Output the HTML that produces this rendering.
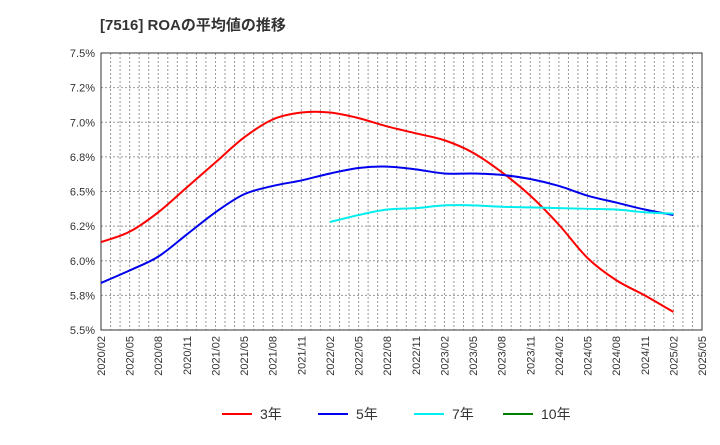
<!DOCTYPE html>
<html><head><meta charset="utf-8"><style>
body{margin:0;background:#fff;font-family:"Liberation Sans","Noto Sans CJK JP",sans-serif;}
</style></head><body>
<svg id="c" width="720" height="440" xmlns="http://www.w3.org/2000/svg">
<text x="100" y="30" font-size="15" font-weight="bold" fill="#333">[7516]  ROAの平均値の推移</text>
<g id="grid"></g><g id="axes"></g><g id="series"></g><g id="legend"></g>
</svg>
<script>
const xLabels=["2020/02","2020/05","2020/08","2020/11","2021/02","2021/05","2021/08","2021/11","2022/02","2022/05","2022/08","2022/11","2023/02","2023/05","2023/08","2023/11","2024/02","2024/05","2024/08","2024/11","2025/02","2025/05"];
const yTicks=[5.5,5.75,6.0,6.25,6.5,6.75,7.0,7.25,7.5];
const yTickLabels=["5.5%","5.8%","6.0%","6.2%","6.5%","6.8%","7.0%","7.2%","7.5%"];
const s3=[6.135,6.21,6.35,6.53,6.71,6.89,7.02,7.07,7.07,7.03,6.97,6.92,6.87,6.78,6.64,6.47,6.26,6.02,5.86,5.75,5.63];
const s5=[5.84,5.93,6.03,6.19,6.35,6.48,6.54,6.58,6.63,6.67,6.68,6.66,6.63,6.63,6.62,6.59,6.54,6.47,6.42,6.37,6.33];
const s7=[null,null,null,null,null,null,null,null,6.28,6.33,6.37,6.38,6.40,6.40,6.39,6.385,6.38,6.375,6.37,6.35,6.34];
const s10=[];
const L=101,R=702,T=53,B=330;
const NS="http://www.w3.org/2000/svg";
const xq=i=>L+i*(R-L)/21;
const ym=v=>B-(v-5.5)/2*(B-T);
function mk(t,a,p){const e=document.createElementNS(NS,t);for(const k in a)e.setAttribute(k,a[k]);p.appendChild(e);return e;}
const g=document.getElementById('grid'),ax=document.getElementById('axes'),sg=document.getElementById('series'),lg=document.getElementById('legend');
for(let m=1;m<63;m++){const x=L+m*(R-L)/63;const l=mk('line',{x1:x,x2:x,y1:T,y2:B,stroke:'#999','stroke-dasharray':'2,2','stroke-width':1},g);

}
yTicks.forEach((v,i)=>{const y=ym(v);const l=mk('line',{x1:L,x2:R,y1:y,y2:y,stroke:'#999','stroke-dasharray':'2,2'},g);


const t=mk('text',{x:L-6,y:y+4,'text-anchor':'end','font-size':11,fill:'#333'},ax);t.textContent=yTickLabels[i];

});
const fr=mk('rect',{x:L,y:T,width:R-L,height:B-T,fill:'none',stroke:'#333','stroke-width':1},ax);


xLabels.forEach((s,i)=>{const x=xq(i);const t=mk('text',{x:x+4,y:B+6,'text-anchor':'end','font-size':11,fill:'#333',transform:`rotate(-90 ${x+4} ${B+6})`},ax);t.textContent=s;

});
function path(arr,color,name){const p=[];arr.forEach((v,i)=>{if(v!=null)p.push([xq(i),ym(v)]);});if(p.length<2)return;
let d=`M${p[0][0]},${p[0][1]}`;for(let i=0;i<p.length-1;i++){const p0=p[i-1]||p[i],p1=p[i],p2=p[i+1],p3=p[i+2]||p2;
d+=` C${p1[0]+(p2[0]-p0[0])/6},${p1[1]+(p2[1]-p0[1])/6} ${p2[0]-(p3[0]-p1[0])/6},${p2[1]-(p3[1]-p1[1])/6} ${p2[0]},${p2[1]}`;}
const e=mk('path',{d:d,fill:'none',stroke:color,'stroke-width':2},sg);

}
path(s3,'#ff0000','line-3yr');path(s5,'#0000ee','line-5yr');path(s7,'#00eeee','line-7yr');path(s10,'#008000','line-10yr');
[['3年','#ff0000',222],['5年','#0000ee',318],['7年','#00eeee',414],['10年','#008000',503]].forEach(([n,c,x])=>{
const gg=mk('g',{},lg);


mk('line',{x1:x,x2:x+30,y1:414,y2:414,stroke:c,'stroke-width':2},gg);
const t=mk('text',{x:x+38,y:419,'font-size':14,fill:'#333'},gg);t.textContent=n;});
</script>
</body></html>
